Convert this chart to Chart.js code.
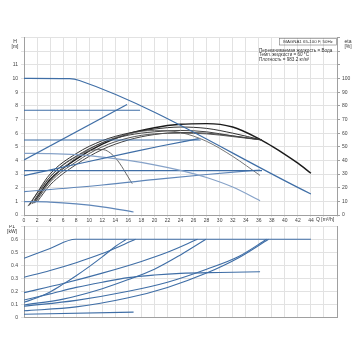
<!DOCTYPE html>
<html>
<head>
<meta charset="utf-8">
<script src="https://cdn.jsdelivr.net/npm/chart.js@4"></script>
<style>
  body { margin: 0; background: #fff; width: 360px; height: 360px; position: relative; overflow: hidden; }
  canvas { position: absolute; left: 0; }
  #top { top: 0; }
  #bot { top: 225px; }
</style>
</head>
<body>
<canvas id="top" width="360" height="225" style="width:360px;height:225px"></canvas>
<canvas id="bot" width="360" height="100" style="width:360px;height:100px"></canvas>
<script>
// Q [m3/h] axis ticks
var qTicksLast = 44;

// head curves H [m] (blue)
var maxQ = [0, 7, 8.5, 44];
var maxH = [10.02, 10.0, 9.86, 1.54];
var cp77Q = [0, 17.8];
var cp77H = [7.68, 7.68];
var ppHiQ = [0, 15.8];
var ppHiH = [4.03, 8.1];
var cp55Q = [0, 27.1];
var cp55H = [5.5, 5.5];
var ppMidQ = [0, 8, 16, 21, 26.8];
var ppMidH = [2.88, 3.72, 4.55, 5.06, 5.6];
var cc45Q = [0, 4, 8, 12, 16, 20, 24, 28, 32, 36.2];
var cc45H = [4.52, 4.5, 4.42, 4.25, 4.0, 3.68, 3.27, 2.75, 2.05, 1.05];
var cp32Q = [0, 36.5];
var cp32H = [3.25, 3.25];
var ppLoQ = [0, 12, 21, 28, 36.2];
var ppLoH = [1.71, 2.2, 2.65, 2.97, 3.3];
var minQ = [0, 4, 8, 12, 16.8];
var minH = [0.98, 0.95, 0.82, 0.6, 0.22];

// efficiency curves eta [%] (black / grey)
var eta1Q = [1.5, 4, 8, 12, 16, 20, 24, 28, 32, 36, 38, 40, 42, 44];
var eta1 = [9, 26, 41, 52, 59.5, 64, 66.5, 67, 64.5, 56, 50.5, 44.5, 38, 30.6];
var eta2Q = [0.8, 4, 8, 12, 16, 20, 24, 28, 32, 36.5];
var eta2 = [7, 30, 45, 54.5, 60, 63, 64.5, 63.5, 60, 55];
var eta3Q = [1.2, 4, 8, 12, 16, 20, 24, 28, 32, 36.5];
var eta3 = [8, 28, 43, 53, 58.5, 61, 62, 61, 58, 55];
var eta4Q = [1.7, 4, 8, 12, 16, 20, 24, 28, 32, 36.5];
var eta4 = [9, 24, 39, 50, 56.5, 59.5, 60, 59.5, 57.5, 55];
var eta5Q = [1.5, 4, 8, 12, 16, 20, 24, 28, 32, 36.2];
var eta5 = [8.5, 25, 42, 53, 59.5, 62, 60.5, 54, 43, 29];
var eta6Q = [0.6, 2, 4, 6, 8, 10, 12, 14, 16.6];
var eta6 = [6.5, 16, 28, 37, 43, 47, 48, 42, 23];
var eta7Q = [2, 4, 8, 12, 16, 20, 24, 28, 32, 36.5];
var eta7 = [9.5, 22, 37, 48, 55, 59, 60.5, 60, 58, 55];

// power curves P1 [kW] (blue)
var p1Q = [0, 4, 7.87, 44];
var p1 = [0.454, 0.53, 0.6, 0.6];
var p2Q = [0, 4, 8, 12, 17.1];
var p2 = [0.308, 0.36, 0.42, 0.49, 0.6];
var p3Q = [0, 2, 4, 6, 8, 10, 12, 14, 15.7];
var p3 = [0.115, 0.15, 0.195, 0.255, 0.32, 0.39, 0.465, 0.545, 0.6];
var p4Q = [0, 6, 12, 18, 22, 26.6];
var p4 = [0.19, 0.26, 0.34, 0.43, 0.5, 0.6];
var p5Q = [0, 6, 12, 16, 20, 24, 27.9];
var p5 = [0.095, 0.14, 0.22, 0.29, 0.37, 0.48, 0.6];
var p6Q = [0, 4, 8, 12, 16, 20, 24, 30, 36.2];
var p6 = [0.133, 0.18, 0.23, 0.27, 0.305, 0.325, 0.338, 0.345, 0.35];
var p7Q = [0, 8, 16, 22, 28, 33, 37.5];
var p7 = [0.05, 0.08, 0.15, 0.23, 0.34, 0.46, 0.6];
var p8Q = [0, 8, 16, 22, 28, 33, 37.2];
var p8 = [0.085, 0.13, 0.2, 0.27, 0.37, 0.47, 0.6];
var p9Q = [0, 16.8];
var p9 = [0.023, 0.04];

var FONT = "'Liberation Sans', Arial, sans-serif";
var BLUE = '#3f6ea6';
var GRID = '#e2e2e2';
var AXIS = '#a0a0a0';

function pts(xs, ys) {
  return xs.map(function (x, i) { return { x: x, y: ys[i] }; });
}
function line(xs, ys, color, width, axis) {
  return {
    data: pts(xs, ys),
    borderColor: color,
    borderWidth: width,
    pointRadius: 0,
    fill: false,
    cubicInterpolationMode: 'monotone',
    yAxisID: axis || 'y'
  };
}
function noPad(scale) {
  scale.paddingTop = 0; scale.paddingBottom = 0;
  scale.paddingLeft = 0; scale.paddingRight = 0;
}
var tickFont = { family: FONT, size: 5 };

var xScale = {
  type: 'linear', min: 0, max: 48,
  ticks: {
    stepSize: 2, font: tickFont, color: '#444', padding: 1, maxRotation: 0, autoSkip: false,
    callback: function (v) { return v <= qTicksLast ? v : ''; }
  },
  grid: { color: GRID, tickLength: 2 },
  border: { color: AXIS },
  afterFit: function (s) { s.height = 10; noPad(s); }
};

var texts = {
  id: 'texts',
  afterDraw: function (chart) {
    var c = chart.ctx;
    c.save();
    c.fillStyle = '#333';
    c.textBaseline = 'middle';
    if (chart.canvas.id === 'top') {
      c.font = '5px ' + FONT;
      c.textAlign = 'center';
      c.fillText('H', 15, 41.5);
      c.fillText('[m]', 15, 46.5);
      c.fillText('eta', 348, 41.5);
      c.fillText('[%]', 348, 46.5);
      c.textAlign = 'left';
      c.fillText('Q [m\u00b3/h]', 316, 219.5);
      c.font = '4.4px ' + FONT;
      c.strokeStyle = '#777';
      c.lineWidth = 0.6;
      c.strokeRect(279.5, 38.5, 57, 6.5);
      c.textAlign = 'center';
      c.fillText('MAGNA1 65-100 F, 50Hz', 308, 41.9);
      c.textAlign = 'left';
      c.font = '4.6px ' + FONT;
      c.fillText('\u041f\u0435\u0440\u0435\u043a\u0430\u0447\u0438\u0432\u0430\u0435\u043c\u0430\u044f \u0436\u0438\u0434\u043a\u043e\u0441\u0442\u044c = \u0412\u043e\u0434\u0430', 259, 50.7);
      c.fillText('\u0422\u0435\u043c\u043f. \u0436\u0438\u0434\u043a\u043e\u0441\u0442\u0438 = 60 \u00b0C', 259, 55);
      c.fillText('\u041f\u043b\u043e\u0442\u043d\u043e\u0441\u0442\u044c = 983.2 \u043a\u0433/\u043c\u00b3', 259, 59.3);
    } else {
      c.font = '5px ' + FONT;
      c.textAlign = 'center';
      c.fillText('P1', 12, 1.5);
      c.fillText('[kW]', 12, 6.5);
    }
    c.restore();
  }
};

Chart.defaults.animation = false;

new Chart(document.getElementById('top'), {
  type: 'line',
  data: {
    datasets: [
      line(maxQ, maxH, BLUE, 1.2),
      line(cp77Q, cp77H, BLUE, 1.2),
      line(ppHiQ, ppHiH, BLUE, 1.2),
      line(cp55Q, cp55H, BLUE, 1.2),
      line(ppMidQ, ppMidH, BLUE, 1.2),
      line(cc45Q, cc45H, '#86a2c8', 1.2),
      line(cp32Q, cp32H, BLUE, 1.2),
      line(ppLoQ, ppLoH, '#5f86b8', 1.2),
      line(minQ, minH, '#5f86b8', 1.2),
      line(eta2Q, eta2, '#333', 1, 'eta'),
      line(eta3Q, eta3, '#444', 1, 'eta'),
      line(eta4Q, eta4, '#555', 1, 'eta'),
      line(eta7Q, eta7, '#444', 1, 'eta'),
      line(eta5Q, eta5, '#777', 1, 'eta'),
      line(eta6Q, eta6, '#666', 1, 'eta'),
      line(eta1Q, eta1, '#1a1a1a', 1.4, 'eta')
    ]
  },
  options: {
    responsive: false,
    events: [],
    layout: { padding: { top: 37.7, left: 0, right: 0, bottom: 0 } },
    plugins: { legend: { display: false }, tooltip: { enabled: false } },
    scales: {
      x: xScale,
      y: {
        type: 'linear', position: 'left', min: 0, max: 13,
        ticks: {
          stepSize: 1, font: tickFont, color: '#444', padding: 3,
          callback: function (v) { return v <= 11 ? v : ''; }
        },
        grid: { color: GRID, tickLength: 3 },
        border: { color: AXIS },
        afterFit: function (s) { s.width = 24; noPad(s); }
      },
      eta: {
        type: 'linear', position: 'right', min: 0, max: 130,
        ticks: {
          stepSize: 10, font: tickFont, color: '#444', padding: 2,
          callback: function (v) { return v <= 100 ? v : ''; }
        },
        grid: { drawOnChartArea: false, color: AXIS, tickLength: 3 },
        border: { color: AXIS },
        afterFit: function (s) { s.width = 23; noPad(s); }
      }
    }
  },
  plugins: [texts]
});

var xBot = Object.assign({}, xScale, {
  ticks: { display: false, stepSize: 2 },
  grid: { color: GRID, drawTicks: false },
  afterFit: function (s) { s.height = 0; noPad(s); }
});

new Chart(document.getElementById('bot'), {
  type: 'line',
  data: {
    datasets: [
      line(p1Q, p1, BLUE, 1.1),
      line(p2Q, p2, BLUE, 1.1),
      line(p3Q, p3, BLUE, 1.1),
      line(p4Q, p4, BLUE, 1.1),
      line(p5Q, p5, BLUE, 1.1),
      line(p6Q, p6, BLUE, 1.1),
      line(p7Q, p7, BLUE, 1.1),
      line(p8Q, p8, BLUE, 1.1),
      line(p9Q, p9, BLUE, 1.1)
    ]
  },
  options: {
    responsive: false,
    events: [],
    layout: { padding: { top: 1.3, left: 0, right: 23, bottom: 7.7 } },
    plugins: { legend: { display: false }, tooltip: { enabled: false } },
    scales: {
      x: xBot,
      y: {
        type: 'linear', position: 'left', min: 0, max: 0.7,
        ticks: {
          stepSize: 0.1, font: tickFont, color: '#444', padding: 3,
          callback: function (v) { return v > 0.65 ? '' : (v === 0 ? '0' : v.toFixed(1)); }
        },
        grid: { color: GRID, tickLength: 3 },
        border: { color: AXIS },
        afterFit: function (s) { s.width = 24; noPad(s); }
      },
      r: {
        type: 'linear', position: 'right', min: 0, max: 0.7,
        ticks: { display: false },
        grid: { drawOnChartArea: false, drawTicks: false },
        border: { color: AXIS },
        afterFit: function (s) { s.width = 0; noPad(s); }
      }
    }
  },
  plugins: [texts]
});
</script>
</body>
</html>
